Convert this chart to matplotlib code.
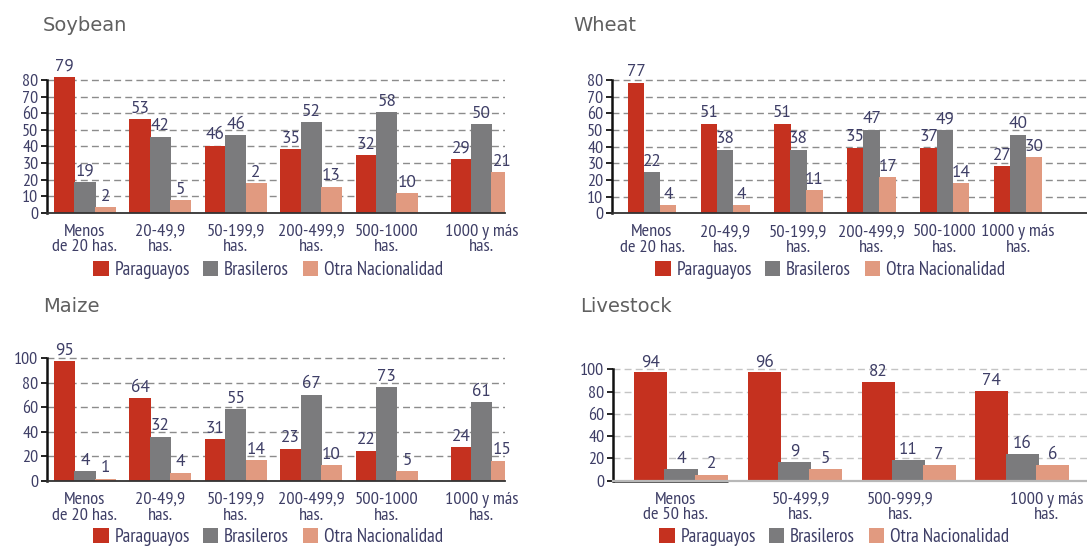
import matplotlib
matplotlib.use('Agg')
import matplotlib.pyplot as plt
import numpy as np

W, H = 1087, 547

# ---- data ----
# bar heights (as drawn) and the numbers printed above them (as written)
crop_cats = ["Menos\nde 20 has.", "20-49,9\nhas.", "50-199,9\nhas.",
             "200-499,9\nhas.", "500-1000\nhas.", "1000 y más\nhas."]
live_cats = ["Menos\nde 50 has.", "50-499,9\nhas.", "500-999,9\nhas.",
             "1000 y más\nhas."]
series_names = ["Paraguayos", "Brasileros", "Otra Nacionalidad"]

soy_par = [81.6, 56.3, 40.4, 38.2, 34.5, 32.4]
soy_bra = [18.7, 45.8, 46.8, 54.7, 60.6, 53.6]
soy_otr = [3.2, 7.6, 17.9, 15.7, 12.0, 24.6]
soy_par_lbl = [79, 53, 46, 35, 32, 29]
soy_bra_lbl = [19, 42, 46, 52, 58, 50]
soy_otr_lbl = [2, 5, 2, 13, 10, 21]

wht_par = [78.4, 53.8, 53.8, 39.4, 39.4, 28.2]
wht_bra = [24.8, 38.2, 38.2, 50.2, 50.2, 47.2]
wht_otr = [4.8, 4.8, 13.8, 21.6, 18.2, 33.6]
wht_par_lbl = [77, 51, 51, 35, 37, 27]
wht_bra_lbl = [22, 38, 38, 47, 49, 40]
wht_otr_lbl = [4, 4, 11, 17, 14, 30]

mai_par = [97.6, 67.4, 34.0, 26.4, 24.7, 27.6]
mai_bra = [8.2, 36.1, 58.4, 70.4, 76.4, 64.4]
mai_otr = [1.9, 6.8, 17.1, 12.8, 8.2, 16.6]
mai_par_lbl = [95, 64, 31, 23, 22, 24]
mai_bra_lbl = [4, 32, 55, 67, 73, 61]
mai_otr_lbl = [1, 4, 14, 10, 5, 15]

liv_par = [97.3, 97.3, 88.9, 80.5]
liv_bra = [10.2, 17.1, 18.6, 23.7]
liv_otr = [5.4, 10.2, 13.8, 13.8]
liv_par_lbl = [94, 96, 82, 74]
liv_bra_lbl = [4, 9, 11, 16]
liv_otr_lbl = [2, 5, 7, 6]

# ---- style ----
RED, GREY, SALMON = '#c5311f', '#7b7b7d', '#e19a80'
TXT = '#3e3e66'
COND = ['PT Sans Narrow', 'Roboto Condensed', 'DejaVu Sans']
NUM = ['PT Sans', 'Open Sans', 'DejaVu Sans']
HEAD = ['DejaVu Sans']

fig = plt.figure(figsize=(W / 100, H / 100), dpi=100)


def make_ax(spine_x, c0, unit, right, y0, ppu, ytop):
    # axes placed in pixels: spine x, first group centre, px per group,
    # right edge, baseline y, px per value unit
    top_px = y0 - ppu * ytop
    ax = fig.add_axes([spine_x / W, 1 - y0 / H,
                       (right - spine_x) / W, (y0 - top_px) / H])
    ax.set_xlim((spine_x - c0) / unit, (right - c0) / unit)
    ax.set_ylim(0, ytop)
    return ax


def panel(ax, xpos, cats, heights, labels, width, step, yticks,
          grid_color, shift=None):
    colors = [RED, GREY, SALMON]
    handles = []
    xpos = np.asarray(xpos, dtype=float)
    for k, (h, lab) in enumerate(zip(heights, labels)):
        xs = xpos + (k - 1) * step
        b = ax.bar(xs, h, width, color=colors[k], zorder=2, linewidth=0)
        handles.append(b)
        for x, v, t in zip(xs, h, lab):
            ax.annotate(str(t), (x, v), xytext=(0, 4.5),
                        textcoords='offset points', ha='center',
                        va='baseline', fontsize=12.5, color=TXT,
                        family=NUM)
    ticks = xpos if shift is None else xpos + np.asarray(shift)
    ax.set_xticks(ticks, cats)
    for lbl in ax.get_xticklabels():
        lbl.set_family(COND)
        lbl.set_linespacing(0.95)
    ax.tick_params(axis='x', length=0, pad=8, labelsize=13.2,
                   labelcolor=TXT)
    ax.set_yticks(yticks)
    for lbl in ax.get_yticklabels():
        lbl.set_family(COND)
    ax.tick_params(axis='y', direction='out', length=4, width=1.3,
                   color='#111111', pad=2, labelsize=13, labelcolor=TXT)
    ax.yaxis.grid(True, color=grid_color, linestyle=(0, (5, 3)),
                  linewidth=1.0)
    ax.set_axisbelow(True)
    for s in ['top', 'right']:
        ax.spines[s].set_visible(False)
    ax.spines['left'].set_linewidth(1.8)
    ax.spines['left'].set_color('#111111')
    ax.spines['left'].set_bounds(0, yticks[-1])
    ax.spines['bottom'].set_linewidth(1.3)
    ax.spines['bottom'].set_color('#333333')
    ax.spines['bottom'].set_zorder(3)
    return handles


def legend(handles, cx, cy):
    fig.legend(handles, series_names, loc='center',
               bbox_to_anchor=(cx / W, 1 - cy / H), ncol=3, frameon=False,
               prop={'family': COND, 'size': 13.8}, labelcolor=TXT,
               handlelength=0.8, handleheight=0.8, handletextpad=0.3,
               columnspacing=0.7, borderpad=0, borderaxespad=0)


def title(x, y, s):
    fig.text(x / W, 1 - y / H, s, fontsize=14, color='#606060',
             va='baseline', ha='left', family=HEAD)


crop_x = [0, 1, 2, 3, 4, 5.26]

# Soybean
ax = make_ax(46.7, 85, 75.4, 505, 212.7, 1.659, 90)
h = panel(ax, crop_x, crop_cats, [soy_par, soy_bra, soy_otr],
          [soy_par_lbl, soy_bra_lbl, soy_otr_lbl], 0.28, 0.27,
          range(0, 81, 10), '#8c8c8c')
legend(h, 268, 270)
title(43, 31, 'Soybean')

# Wheat
ax = make_ax(611.7, 652, 73.2, 1087, 213.3, 1.667, 90)
h = panel(ax, range(6), crop_cats, [wht_par, wht_bra, wht_otr],
          [wht_par_lbl, wht_bra_lbl, wht_otr_lbl], 0.225, 0.22,
          range(0, 81, 10), '#8c8c8c')
legend(h, 830, 270)
title(573, 31, 'Wheat')

# Maize
ax = make_ax(46.7, 85, 75.4, 505, 481, 1.227, 110)
h = panel(ax, crop_x, crop_cats, [mai_par, mai_bra, mai_otr],
          [mai_par_lbl, mai_bra_lbl, mai_otr_lbl], 0.28, 0.27,
          range(0, 101, 20), '#8c8c8c')
legend(h, 268, 537)
title(43, 312.5, 'Maize')

# Livestock
ax = make_ax(612.7, 681, 113.8, 1087, 480.7, 1.113, 110)
h = panel(ax, range(4), live_cats, [liv_par, liv_bra, liv_otr],
          [liv_par_lbl, liv_bra_lbl, liv_otr_lbl], 0.29, 0.268,
          range(0, 101, 20), '#c4c4c4', shift=[-0.05, 0.05, -0.07, 0.21])
ax.spines['bottom'].set_color('#b8b8b8')
ax.spines['bottom'].set_linewidth(1.6)
# dark stretch of the baseline under the first group
ax.plot([ax.get_xlim()[0], 0 + 0.268 + 0.145], [0, 0], color='#222222',
        lw=1.8, zorder=1, clip_on=False, solid_capstyle='butt')
legend(h, 834, 537)
title(580, 312.5, 'Livestock')

fig.savefig('out.png', dpi=100)
